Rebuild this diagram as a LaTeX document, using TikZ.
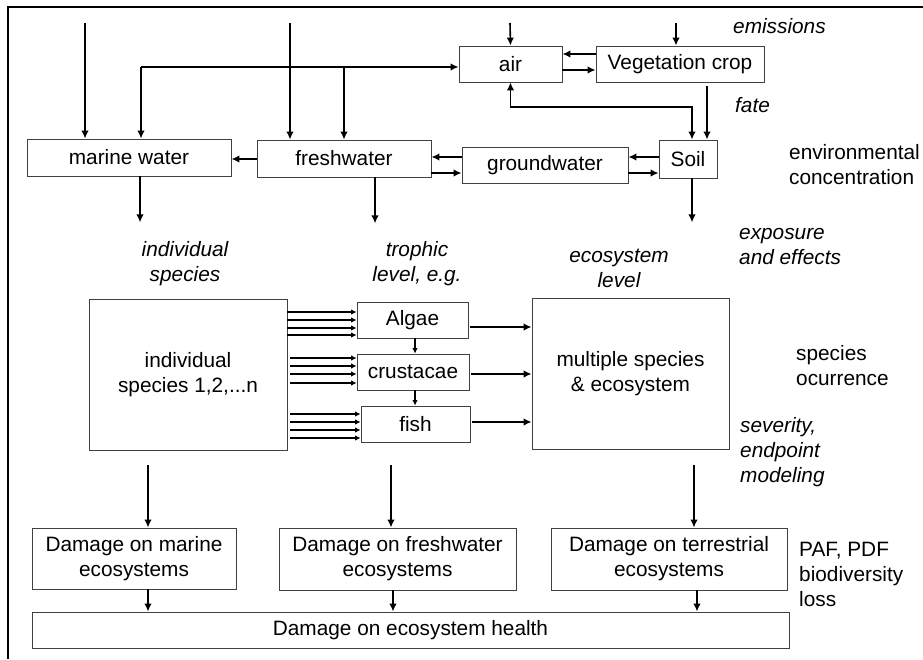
\documentclass[tikz,border=0pt]{standalone}
\usepackage{fontspec}
\setmainfont{Liberation Sans}
\usetikzlibrary{arrows.meta}
\begin{document}
\begin{tikzpicture}[x=1pt,y=-1pt,
  box/.style={draw=black!75,line width=0.8pt,rectangle,inner sep=0pt,align=center,
     font=\fontsize{20.8}{25}\selectfont},
  lbl/.style={inner sep=0pt,align=left,font=\fontsize{20.8}{25}\selectfont},
  ilbl/.style={inner sep=0pt,align=left,font=\fontsize{20.8}{25}\selectfont\itshape},
  arr/.style={line width=1.6pt,-{Latex[length=8pt,width=7.5pt]}},
  arrs/.style={line width=1.4pt,-{Latex[length=5.5pt,width=5.5pt]}},
  arrb/.style={line width=1.6pt,{Latex[length=8pt,width=7.5pt]}-{Latex[length=8pt,width=7.5pt]}}]
\useasboundingbox (0,0) rectangle (923,659);
\fill[white] (0,0) rectangle (923,659);
% frame
\draw[line width=1.8pt] (8,659) -- (8,7) -- (923,7);

% boxes
\node[box,minimum width=204pt,minimum height=37pt] (marine) at (129,157.5) {marine water};
\node[box,minimum width=174pt,minimum height=37pt] (fresh) at (344,158.5) {freshwater};
\node[box,minimum width=103pt,minimum height=36pt] (air) at (510.5,64) {air};
\node[box,minimum width=168pt,minimum height=36pt] (veg) at (680,64) {Vegetation crop};
\node[box,minimum width=166pt,minimum height=36pt] (ground) at (545,165) {groundwater};
\node[box,minimum width=58pt,minimum height=38pt] (soil) at (688,159) {Soil};
\node[box,minimum width=198pt,minimum height=151pt] (indiv) at (188,374.5) {individual\\species 1,2,...n};
\node[box,minimum width=111pt,minimum height=36pt] (algae) at (412.5,320) {Algae};
\node[box,minimum width=112pt,minimum height=36pt] (crust) at (413,372) {crustacae};
\node[box,minimum width=109pt,minimum height=36pt] (fish) at (415.5,424) {fish};
\node[box,minimum width=197pt,minimum height=151pt] (multi) at (630.5,373.5) {multiple species\\\& ecosystem};
\node[box,minimum width=204pt,minimum height=61pt] (dmarine) at (134,558.5) {Damage on marine\\ecosystems};
\node[box,minimum width=237pt,minimum height=62pt] (dfresh) at (397.5,559) {Damage on freshwater\\ecosystems};
\node[box,minimum width=236pt,minimum height=62pt] (dterr) at (669,559) {Damage on terrestrial\\ecosystems};
\node[box,minimum width=757pt,minimum height=36pt] (health) at (410.5,630) {Damage on ecosystem health};

% labels
\node[ilbl,anchor=west] (lemis) at (733,26) {emissions};
\node[ilbl,anchor=west] (lfate) at (735,105) {fate};
\node[lbl,anchor=west] (lenv) at (789,165) {environmental\\concentration};
\node[ilbl,align=center] (lind) at (185,264) {individual\\species};
\node[ilbl,align=center] (ltroph) at (417,264) {trophic\\level, e.g.};
\node[ilbl,align=center] (leco) at (619,268) {ecosystem\\level};
\node[ilbl,anchor=west] (lexp) at (739,247) {exposure\\and effects};
\node[lbl,anchor=west] (locc) at (796,366) {species\\ocurrence};
\node[ilbl,anchor=west] (lsev) at (740,452) {severity,\\endpoint\\modeling};
\node[lbl,anchor=west] (lpaf) at (799,574) {PAF, PDF\\biodiversity\\loss};

% free ends
\coordinate (e1) at (85,23);
\coordinate (e2) at (290,23);
\coordinate (e3) at (510,23);
\coordinate (e4) at (676,23);
\coordinate (h1) at (141,67);
\coordinate (h2) at (344,67);
\coordinate (jn) at (692,107);
\coordinate (vs) at (707,86);
\coordinate (m1) at (140,0);
\coordinate (m2) at (375,0);
\coordinate (m3) at (692,0);
\coordinate (b1) at (148,465);
\coordinate (b2) at (391,465);
\coordinate (b3) at (694,465);

% emissions
\draw[arr] (e1) -- (marine.north -| e1);
\draw[arr] (e2) -- (fresh.north -| e2);
\draw[arr] (e3) -- (air.north);
\draw[arr] (e4) -- (veg.north -| e4);
% air distribution line
\draw[arr] (h1) -- (marine.north -| h1);
\draw[arr] (h1) -- (h1 -| air.west);
\draw[arr] (h2) -- (fresh.north -| h2);
% air <-> veg
\draw[arr] (veg.west |- 0,54) -- (air.east |- 0,54);
\draw[arr] (air.east |- 0,70) -- (veg.west |- 0,70);
% air <-> soil
\draw[arrb] (air.south) |- (jn) -- (soil.north -| jn);
\draw[arr] (vs) -- (soil.north -| vs);
% soil <-> groundwater
\draw[arr] (soil.west |- 0,157) -- (ground.east |- 0,157);
\draw[arr] (ground.east |- 0,173) -- (soil.west |- 0,173);
% groundwater <-> freshwater
\draw[arr] (ground.west |- 0,157) -- (fresh.east |- 0,157);
\draw[arr] (fresh.east |- 0,173) -- (ground.west |- 0,173);
% freshwater -> marine
\draw[arr] (fresh.west |- 0,159) -- (marine.east |- 0,159);
% down to exposure
\draw[arr] (marine.south -| m1) -- ++(0,46);
\draw[arr] (fresh.south -| m2) -- ++(0,46);
\draw[arr] (soil.south -| m3) -- ++(0,44);
% individual species -> trophic levels
\foreach \y in {312,320,328,335} \draw[arrs] (indiv.east |- 0,\y) -- (algae.west |- 0,\y);
\foreach \y in {358,366,374,383} \draw[arrs] ([xshift=3pt]indiv.east |- 0,\y) -- (crust.west |- 0,\y);
\foreach \y in {414,422,430,438} \draw[arrs] ([xshift=3pt]indiv.east |- 0,\y) -- (fish.west |- 0,\y);
% trophic chain
\draw[arrs] (algae.south -| 415,0) -- (crust.north -| 415,0);
\draw[arrs] (crust.south -| 415,0) -- (fish.north -| 415,0);
% trophic -> multi
\draw[arr] ([xshift=2pt]algae.east |- 0,327) -- (multi.west |- 0,327);
\draw[arr] ([xshift=2pt]crust.east |- 0,374) -- (multi.west |- 0,374);
\draw[arr] ([xshift=2pt]fish.east |- 0,422) -- (multi.west |- 0,422);
% to damage
\draw[arr] (b1) -- (dmarine.north -| b1);
\draw[arr] (b2) -- (dfresh.north -| b2);
\draw[arr] (b3) -- (dterr.north -| b3);
\draw[arr] (dmarine.south -| 148,0) -- (health.north -| 148,0);
\draw[arr] (dfresh.south -| 393,0) -- (health.north -| 393,0);
\draw[arr] (dterr.south -| 697,0) -- (health.north -| 697,0);
\end{tikzpicture}
\end{document}
